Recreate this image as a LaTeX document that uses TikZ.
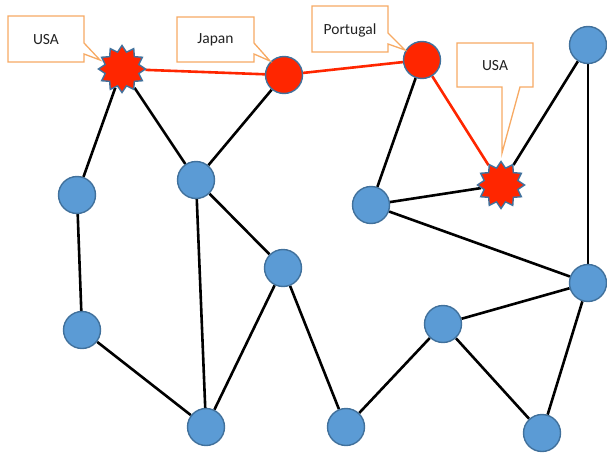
\documentclass[tikz,border=0pt]{standalone}
\usepackage{fontspec}
\setmainfont{Carlito}
\usetikzlibrary{shapes.geometric,backgrounds}
\definecolor{nodeblue}{HTML}{5B9BD5}
\definecolor{nodeedge}{HTML}{41719C}
\definecolor{hotred}{HTML}{FF2600}
\definecolor{calloutline}{HTML}{F7AA64}
\definecolor{textgrey}{HTML}{222222}
\begin{document}
\begin{tikzpicture}[x=1pt,y=-1pt,
  plain/.style={circle,draw=nodeedge,line width=1.4pt,fill=nodeblue,minimum size=37pt,inner sep=0pt},
  hit/.style={circle,draw=nodeedge,line width=1.4pt,fill=hotred,minimum size=37pt,inner sep=0pt},
  burst/.style={star,star points=12,star point ratio=1.35,draw=nodeedge,line width=1.4pt,fill=hotred,minimum size=47pt,inner sep=0pt},
  link/.style={line width=2.6pt,black},
  route/.style={line width=2.6pt,hotred},
  callout/.style={draw=calloutline,line width=1.3pt,fill=white,line join=miter},
  label/.style={text=textgrey,font=\fontsize{15.5}{18}\selectfont,inner sep=0pt}]
\useasboundingbox (0,0) rectangle (607,452);

% network nodes
\node[burst] (s1) at (122,69) {};
\node[hit]   (jp) at (284,75) {};
\node[hit]   (pt) at (422,60) {};
\node[burst] (s2) at (501,185) {};
\node[plain] (a) at (588,45) {};
\node[plain] (b) at (77,195) {};
\node[plain] (c) at (196,180) {};
\node[plain] (d) at (371,205) {};
\node[plain] (e) at (283,268) {};
\node[plain] (f) at (588,283) {};
\node[plain] (g) at (82,330) {};
\node[plain] (h) at (443,324) {};
\node[plain] (i) at (206,427) {};
\node[plain] (k) at (346,427) {};
\node[plain] (l) at (542,433) {};

% links
\begin{scope}[on background layer]
\draw[link] (s1) -- (b);
\draw[link] (s1) -- (c);
\draw[link] (jp) -- (c);
\draw[link] (c) -- (e);
\draw[link] (c) -- (i);
\draw[link] (b) -- (g);
\draw[link] (g) -- (i);
\draw[link] (e) -- (i);
\draw[link] (e) -- (k);
\draw[link] (pt) -- (d);
\draw[link] (d) -- (s2);
\draw[link] (s2) -- (a);
\draw[link] (d) -- (f);
\draw[link] (a) -- (f);
\draw[link] (f) -- (h);
\draw[link] (f) -- (l);
\draw[link] (h) -- (k);
\draw[link] (h) -- (l);
\draw[route] (s1) -- (jp);
\draw[route] (jp) -- (pt);
\draw[route] (pt) -- (s2);
\end{scope}

% callouts
\draw[callout] (8,16) -- (84,16) -- (84,43) -- (100,60) -- (84,54) -- (84,62) -- (8,62) -- cycle;
\node[label] (t1) at (46,40) {USA};
\draw[callout] (177,17) -- (254,17) -- (254,43) -- (270,61) -- (254,54) -- (254,62) -- (177,62) -- cycle;
\node[label] (t2) at (215.5,40) {Japan};
\draw[callout] (312,6) -- (388,6) -- (388,33) -- (405,50) -- (388,44) -- (388,52) -- (312,52) -- cycle;
\node[label] (t3) at (350,30) {Portugal};
\draw[callout] (457,43) -- (533,43) -- (533,87) -- (520,87) -- (502,153) -- (502,87) -- (457,87) -- cycle;
\node[label] (t4) at (495,66) {USA};
\end{tikzpicture}
\end{document}
